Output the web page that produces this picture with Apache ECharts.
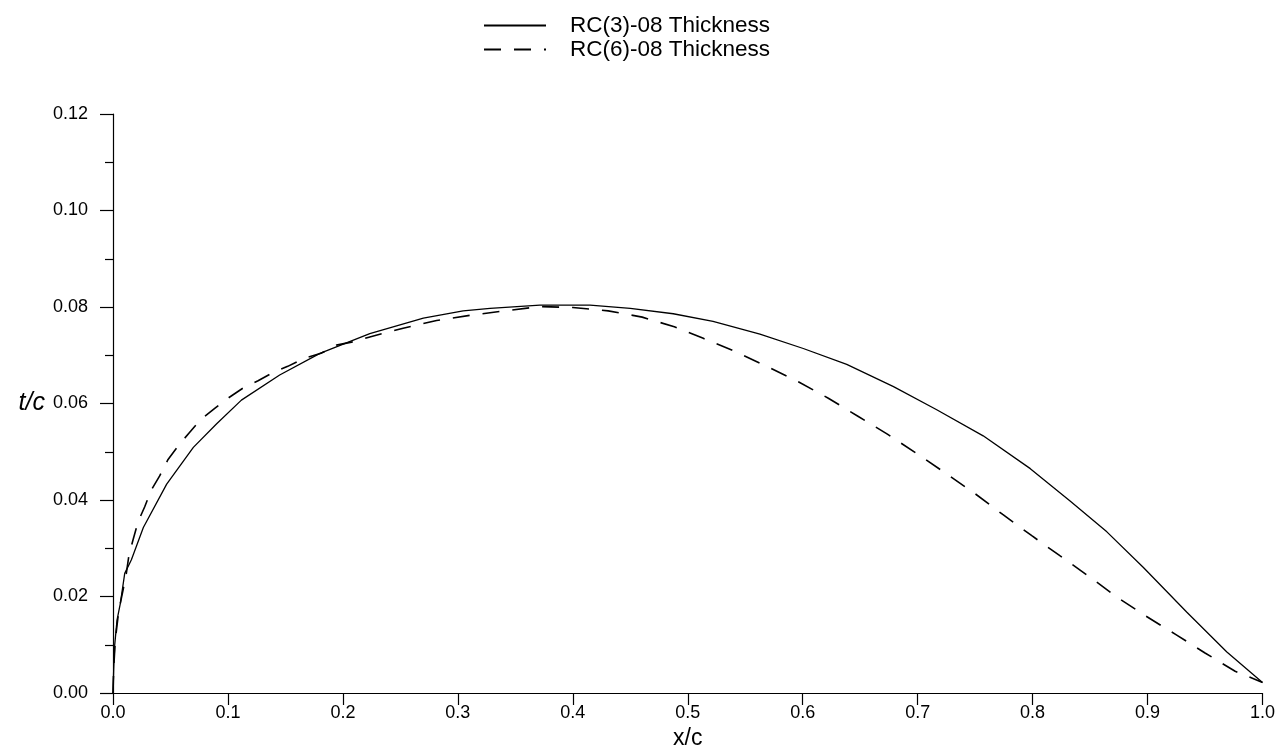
<!DOCTYPE html>
<html>
<head>
<meta charset="utf-8">
<script src="https://cdn.jsdelivr.net/npm/echarts@6/dist/echarts.min.js"></script>
<style>
html,body{margin:0;padding:0;background:#fff;}
#chart{width:1276px;height:754px;}
</style>
</head>
<body>
<div id="chart"></div>
<script>
// Series names
const seriesNames = ['RC(3)-08 Thickness', 'RC(6)-08 Thickness'];

// RC(3)-08 thickness distribution: [x/c, t/c]
const rc3x = [0, 0.0006, 0.0015, 0.0035, 0.0064, 0.0102, 0.016, 0.0264, 0.0467, 0.0699, 0.0902, 0.1117, 0.145, 0.18, 0.2234, 0.27, 0.3046, 0.328, 0.3714, 0.415, 0.45, 0.4874, 0.522, 0.5628, 0.6005, 0.6383, 0.679, 0.7166, 0.757, 0.798, 0.8326, 0.8646, 0.8964, 0.934, 0.969, 1.0];
const rc3t = [0, 0.0048, 0.0100, 0.0151, 0.0186, 0.0248, 0.0276, 0.0343, 0.0433, 0.0509, 0.0558, 0.0607, 0.0659, 0.0704, 0.0745, 0.0777, 0.0792, 0.0797, 0.0804, 0.0804, 0.0797, 0.0786, 0.0770, 0.0744, 0.0714, 0.0681, 0.0635, 0.0587, 0.0533, 0.0465, 0.0398, 0.0334, 0.0260, 0.0168, 0.0085, 0.0022];

// RC(6)-08 thickness distribution: [x/c, t/c]
const rc6x = [0, 0.0006, 0.002, 0.005, 0.0087, 0.0116, 0.0139, 0.0174, 0.0218, 0.0276, 0.0334, 0.0406, 0.0479, 0.0566, 0.0662, 0.076, 0.0885, 0.1, 0.1131, 0.1262, 0.139, 0.152, 0.1668, 0.181, 0.1944, 0.209, 0.2234, 0.2524, 0.2815, 0.311, 0.341, 0.3714, 0.4, 0.4308, 0.4604, 0.4883, 0.5135, 0.541, 0.5695, 0.5962, 0.6223, 0.6484, 0.674, 0.7, 0.7247, 0.75, 0.774, 0.7993, 0.824, 0.8494, 0.8738, 0.8988, 0.9247, 0.95, 0.9762, 1.0];
const rc6t = [0, 0.0050, 0.0110, 0.0170, 0.0213, 0.0248, 0.0286, 0.0317, 0.0355, 0.0386, 0.0421, 0.0450, 0.0484, 0.0512, 0.0539, 0.0566, 0.0590, 0.0611, 0.0632, 0.0647, 0.0664, 0.0677, 0.0694, 0.0704, 0.0721, 0.0728, 0.0738, 0.0756, 0.0772, 0.0783, 0.0792, 0.0801, 0.0799, 0.0792, 0.0779, 0.0759, 0.0735, 0.0708, 0.0676, 0.0645, 0.0611, 0.0573, 0.0536, 0.0495, 0.0455, 0.0413, 0.0370, 0.0326, 0.0284, 0.0241, 0.0198, 0.0159, 0.0121, 0.0083, 0.0045, 0.0022];

// Axis ticks
const xTicks = [0.0, 0.1, 0.2, 0.3, 0.4, 0.5, 0.6, 0.7, 0.8, 0.9, 1.0];
const yTicks = [0.00, 0.02, 0.04, 0.06, 0.08, 0.10, 0.12];

const pair = (xs, ys) => xs.map((x, i) => [x, ys[i]]);

const FONT = '"Liberation Sans", Arial, Helvetica, sans-serif';
const chart = echarts.init(document.getElementById('chart'), null, {renderer: 'canvas'});

chart.setOption({
  animation: false,
  backgroundColor: '#ffffff',
  textStyle: {fontFamily: FONT, color: '#000'},
  legend: {
    orient: 'vertical',
    left: 478,
    top: 9,
    itemWidth: 62,
    itemHeight: 12,
    itemGap: 1,
    selectedMode: false,
    itemStyle: {opacity: 0, color: 'transparent', borderWidth: 0},
    textStyle: {fontFamily: FONT, fontSize: 22.5, color: '#000', padding: [0, 0, 0, 19]},
    data: seriesNames
  },
  grid: {left: 113, right: 13.5, top: 114, bottom: 61, containLabel: false, outerBoundsMode: 'none'},
  xAxis: {
    type: 'value',
    min: xTicks[0],
    max: xTicks[xTicks.length - 1],
    interval: 0.1,
    name: 'x/c',
    nameLocation: 'middle',
    nameGap: 34,
    nameTextStyle: {fontFamily: FONT, fontSize: 23, color: '#000'},
    axisLine: {show: true, onZero: false, lineStyle: {color: '#000', width: 1.2}},
    axisTick: {show: true, inside: false, length: 12, lineStyle: {color: '#000', width: 1.2}},
    minorTick: {show: false},
    splitLine: {show: false},
    axisLabel: {
      fontFamily: FONT, fontSize: 18, color: '#000', margin: 11,
      formatter: v => v.toFixed(1)
    }
  },
  yAxis: {
    type: 'value',
    min: yTicks[0],
    max: yTicks[yTicks.length - 1],
    interval: 0.02,
    name: 't/c',
    nameLocation: 'middle',
    nameRotate: 0,
    nameGap: 68,
    nameTextStyle: {fontFamily: FONT, fontSize: 25, color: '#000', fontStyle: 'italic'},
    axisLine: {show: true, onZero: false, lineStyle: {color: '#000', width: 1.2}},
    axisTick: {show: true, inside: false, length: 13, lineStyle: {color: '#000', width: 1.2}},
    minorTick: {show: true, splitNumber: 2, length: 8, lineStyle: {color: '#000', width: 1.2}},
    splitLine: {show: false},
    axisLabel: {
      fontFamily: FONT, fontSize: 18, color: '#000', margin: 25,
      formatter: v => v.toFixed(2)
    }
  },
  series: [
    {
      name: seriesNames[0],
      type: 'line',
      data: pair(rc3x, rc3t),
      symbol: 'none',
      smooth: false,
      lineStyle: {color: '#000', width: 1.3, type: 'solid'},
      itemStyle: {color: '#000'}
    },
    {
      name: seriesNames[1],
      type: 'line',
      data: pair(rc6x, rc6t),
      symbol: 'none',
      smooth: false,
      lineStyle: {color: '#000', width: 1.6, type: [17, 13]},
      itemStyle: {color: '#000'}
    }
  ]
});
</script>
</body>
</html>
